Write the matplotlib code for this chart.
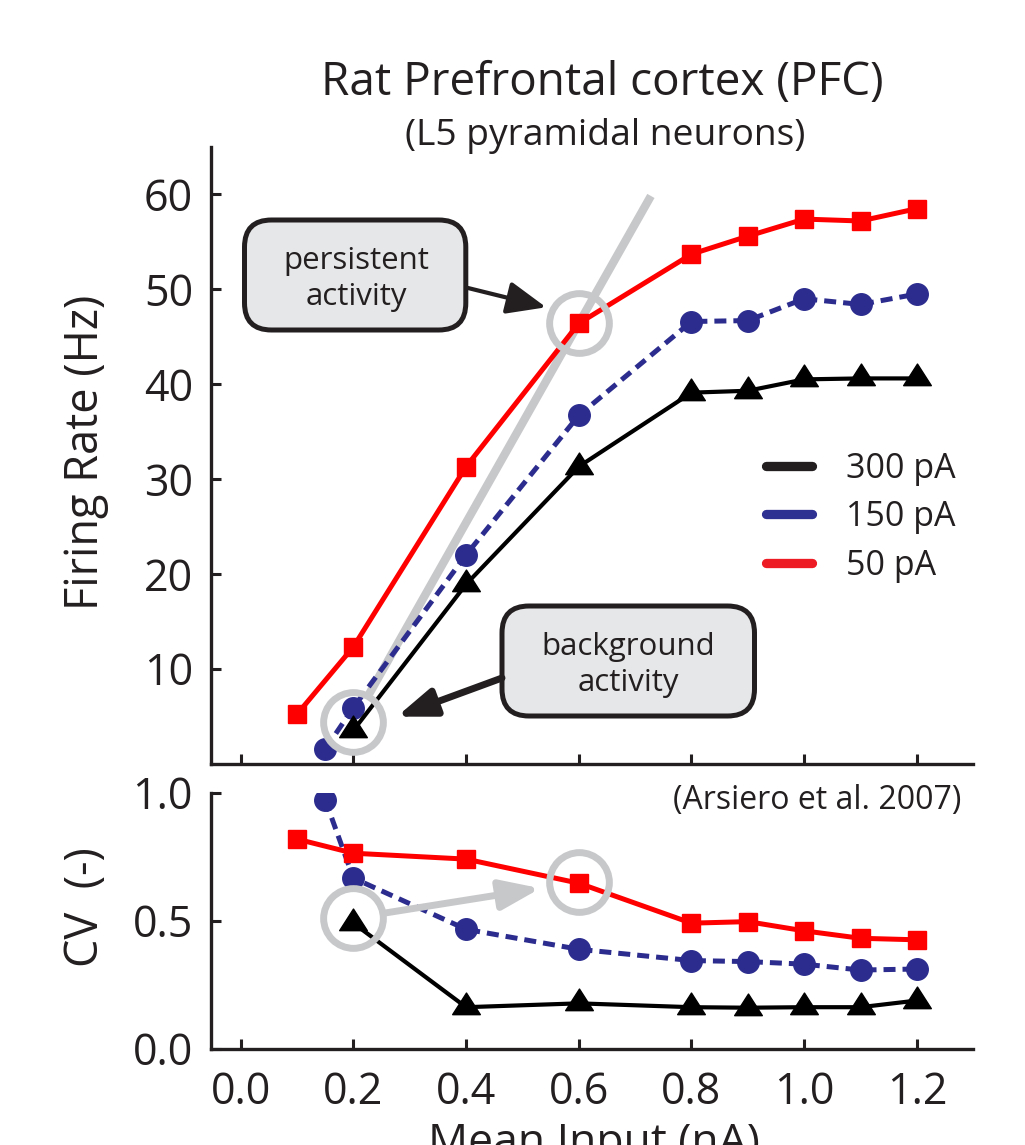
import numpy as np
import matplotlib
matplotlib.use("Agg")
import matplotlib.pyplot as plt
from matplotlib.lines import Line2D
from matplotlib.path import Path
from matplotlib.patches import FancyBboxPatch

plt.rcParams['font.family'] = ['Open Sans', 'DejaVu Sans']
plt.rcParams['text.color'] = '#231f20'

# mean input current (nA) for each noise amplitude
x_50 = [0.1, 0.2, 0.4, 0.6, 0.8, 0.9, 1.0, 1.1, 1.2]
x_150 = [0.15, 0.2, 0.4, 0.6, 0.8, 0.9, 1.0, 1.1, 1.2]
x_300 = [0.2, 0.4, 0.6, 0.8, 0.9, 1.0, 1.1, 1.2]

# firing rate (Hz)
rate_50 = [5.2, 12.3, 31.3, 46.4, 53.7, 55.6, 57.4, 57.2, 58.5]
rate_150 = [1.5, 5.9, 22.0, 36.7, 46.6, 46.7, 49.0, 48.4, 49.5]
rate_300 = [3.5, 18.9, 31.3, 39.1, 39.3, 40.5, 40.6, 40.6]

# coefficient of variation of the ISI
cv_50 = [0.818, 0.763, 0.740, 0.646, 0.490, 0.496, 0.460, 0.431, 0.425]
cv_150 = [0.971, 0.666, 0.466, 0.388, 0.344, 0.340, 0.330, 0.307, 0.311]
cv_300 = [0.49, 0.162, 0.177, 0.162, 0.160, 0.162, 0.162, 0.188]

labels = ['300 pA', '150 pA', '50 pA']

# highlighted operating points (background -> persistent)
hl_x = [0.2, 0.6]
hl_rate = [4.4, 46.4]
hl_cv = [0.51, 0.65]

RED = '#ff0000'
BLUE = '#2b2c8e'
BLACK = '#000000'
GRAY = '#c7c8ca'
INK = '#231f20'

# triangle centred on its centroid
tri = Path([(0, 14.5), (-13.9, -7.2), (13.9, -7.2), (0, 14.5)],
           [Path.MOVETO, Path.LINETO, Path.LINETO, Path.CLOSEPOLY])

W, H = 1025, 1145
fig = plt.figure(figsize=(W / 100, H / 100), dpi=100)
ax1 = fig.add_axes([211 / W, 1 - 763.5 / H, 762 / W, 616.5 / H])
ax2 = fig.add_axes([211 / W, 1 - 1048.7 / H, 762 / W, 256.2 / H])


def draw_series(ax, y50, y150, y300):
    ax.plot(x_150, y150, color=BLUE, lw=3.6, ls=(0, (2.4, 1.4)),
            marker='o', ms=15.5, mec=BLUE, mfc=BLUE, zorder=3)
    ax.plot(x_50, y50, color=RED, lw=3.6, marker='s', ms=13,
            mec=RED, mfc=RED, zorder=3.2)
    ax.plot(x_300, y300, color=BLACK, lw=3, marker=tri, ms=20.8,
            mec=BLACK, mfc=BLACK, zorder=3.4)


def style(ax):
    for s in ['top', 'right']:
        ax.spines[s].set_visible(False)
    for s in ['left', 'bottom']:
        ax.spines[s].set_linewidth(2.4)
        ax.spines[s].set_color(INK)
    ax.set_xlim(-0.0527, 1.2996)
    ax.set_xticks(np.arange(0, 1.21, 0.2))
    ax.tick_params(direction='in', length=7, width=2.2, color=INK,
                   labelsize=31, labelcolor=INK)
    ax.tick_params(axis='y', pad=13)
    ax.tick_params(axis='x', pad=16)


draw_series(ax1, rate_50, rate_150, rate_300)
style(ax1)
ax1.set_ylim(0, 65.0)
ax1.set_yticks([10, 20, 30, 40, 50, 60])
ax1.tick_params(axis='x', labelbottom=False)

# gray guide line through the two highlighted points
t = np.array([0.07, 1.32])
gx = hl_x[0] + t * (hl_x[1] - hl_x[0])
gy = hl_rate[0] + t * (hl_rate[1] - hl_rate[0])
ax1.plot(gx, gy, color=GRAY, lw=6, solid_capstyle='butt', zorder=2)
ax1.plot(hl_x, hl_rate, ls='none', marker='o', ms=43, mfc='none',
         mec=GRAY, mew=5, zorder=4)

handles = [Line2D([], [], color=c, lw=6.7, solid_capstyle='round')
           for c in [INK, '#2e3192', '#ed1c24']]
ax1.legend(handles, labels, loc='center left', bbox_to_anchor=(0.7288, 0.3994),
           frameon=False, fontsize=24.5, handlelength=1.35,
           handletextpad=1.0, labelspacing=0.42, borderpad=0,
           borderaxespad=0)

draw_series(ax2, cv_50, cv_150, cv_300)
style(ax2)
ax2.set_ylim(0, 1.0)
ax2.set_yticks([0.0, 0.5, 1.0])
ax2.set_yticklabels(['0.0', '0.5', '1.0'])
ax2.set_xticklabels(['%.1f' % v for v in np.arange(0, 1.21, 0.2)])
ax2.plot(hl_x, hl_cv, ls='none', marker='o', ms=43, mfc='none',
         mec=GRAY, mew=5, zorder=4)
ax2.annotate('', xy=(hl_x[1], hl_cv[1]), xytext=(hl_x[0], hl_cv[0]),
             arrowprops=dict(arrowstyle='-|>,head_length=2.4,head_width=0.9',
                             lw=5, color=GRAY, shrinkA=23, shrinkB=28,
                             mutation_scale=10), zorder=4)
ax2.text(0.985, 0.97, '(Arsiero et al. 2007)', transform=ax2.transAxes,
         ha='right', va='center', fontsize=23)

# overlay in pixel units for titles, axis labels and callouts
ov = fig.add_axes([0, 0, 1, 1], zorder=5)
ov.set_xlim(0, W)
ov.set_ylim(H, 0)
ov.axis('off')

ov.text(602, 95, 'Rat Prefrontal cortex (PFC)', ha='center', va='baseline',
        fontsize=33)
ov.text(605, 145, '(L5 pyramidal neurons)', ha='center', va='baseline',
        fontsize=26.8)
ov.text(86, 452, 'Firing Rate (Hz)', ha='center', va='center', rotation=90,
        fontsize=32.5)
ov.text(86, 907, 'CV  (-)', ha='center', va='center', rotation=90,
        fontsize=32.5)
ov.text(594, 1155, 'Mean Input (nA)', ha='center', va='baseline',
        fontsize=32)

for (x0, y0, w, h, cx, cy, txt) in [
        (244.5, 220, 221.3, 110, 356, 279, 'persistent\nactivity'),
        (502, 606, 252.5, 110, 628, 665, 'background\nactivity')]:
    ov.add_patch(FancyBboxPatch((x0, y0), w, h,
                                boxstyle='round,pad=0,rounding_size=27',
                                fc='#e6e7e8', ec=INK, lw=3.6, zorder=2))
    ov.text(cx, cy, txt, ha='center', va='center', fontsize=22.5,
            linespacing=1.3, zorder=3)

ov.annotate('', xy=(0.542, 48.1), xycoords=ax1.transData, xytext=(468, 288),
            textcoords='data',
            arrowprops=dict(arrowstyle='-|>,head_length=2.4,head_width=1.0',
                            lw=3, color=INK, shrinkA=0, shrinkB=0,
                            mutation_scale=10))
ov.annotate('', xy=(0.277, 4.94), xycoords=ax1.transData, xytext=(502, 678),
            textcoords='data',
            arrowprops=dict(arrowstyle='-|>,head_length=2.3,head_width=0.85',
                            lw=5, color=INK, shrinkA=0, shrinkB=0,
                            mutation_scale=10))

fig.savefig('out.png', dpi=100)
